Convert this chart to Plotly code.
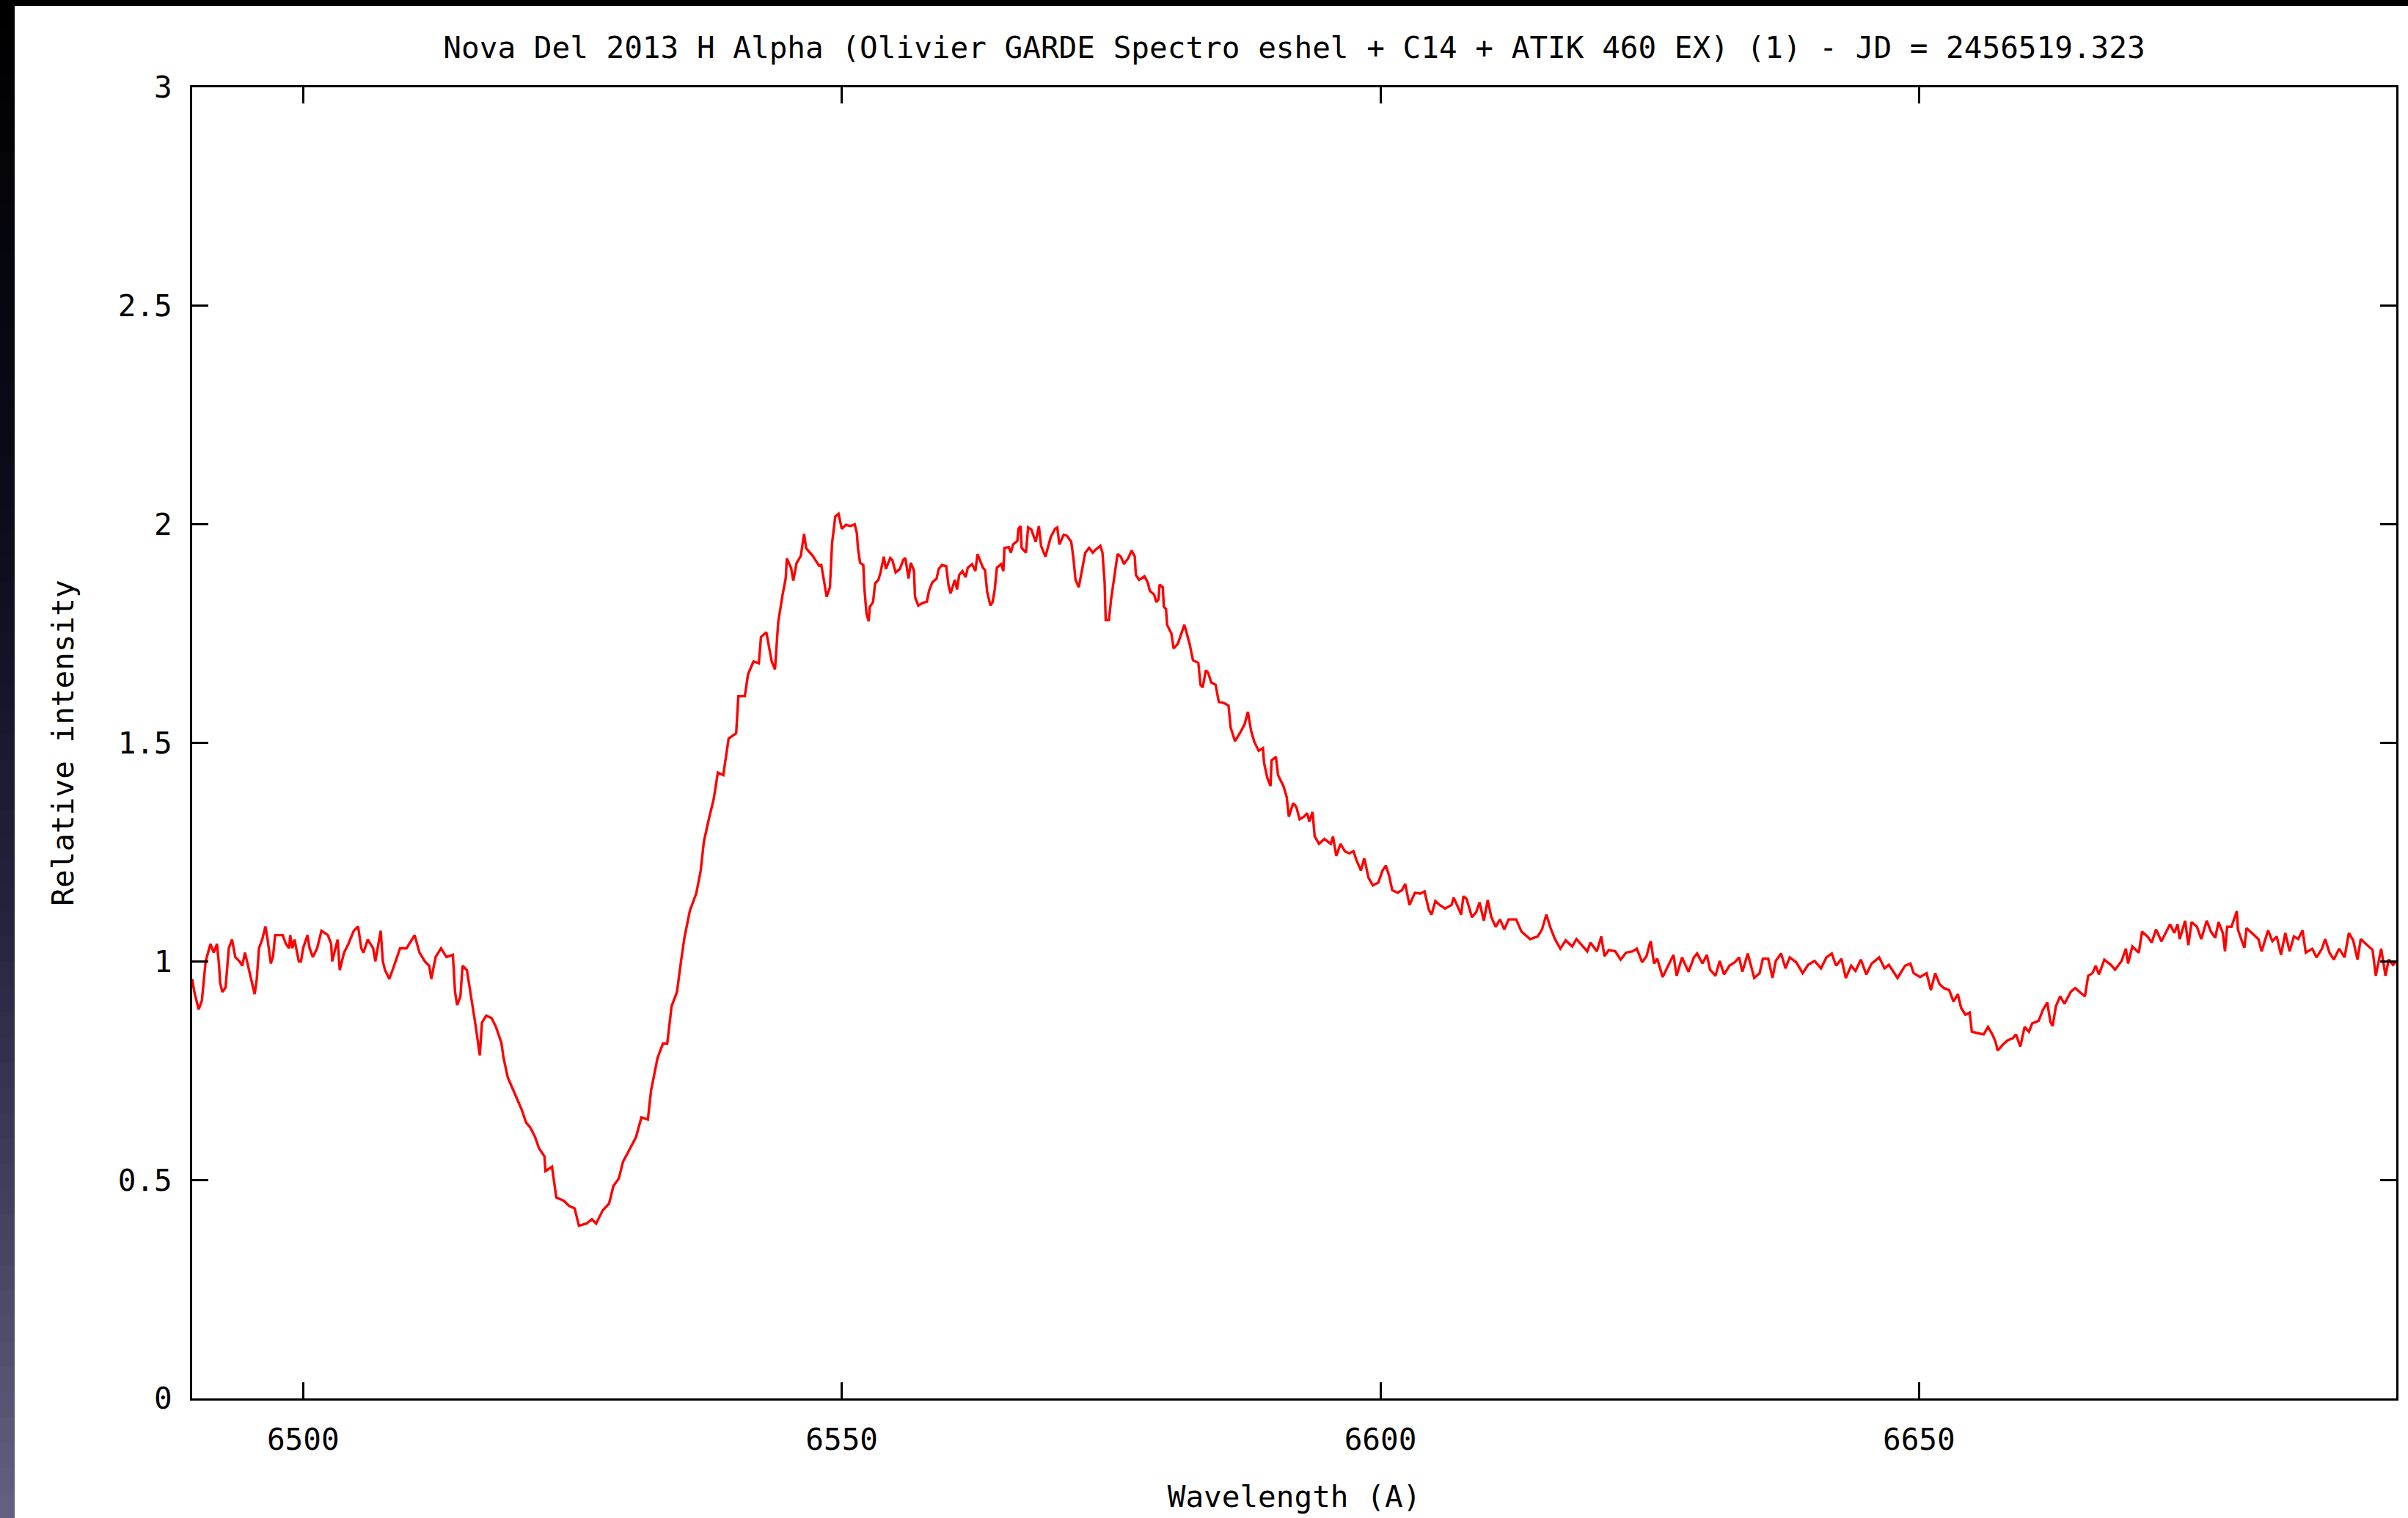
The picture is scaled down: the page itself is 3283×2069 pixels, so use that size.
import plotly.graph_objects as go

# ---- data ----
wavelength = [
    6489.7, 6489.9, 6490.3, 6490.6, 6490.95, 6491.4, 6491.7, 6492.0, 6492.2, 6492.3,
    6492.5, 6492.8, 6492.9, 6493.1, 6493.4, 6493.7, 6494.1, 6494.35, 6494.6, 6495.0,
    6495.3, 6495.5, 6495.7, 6495.9, 6496.2, 6496.5, 6496.7, 6497.0, 6497.2, 6497.4,
    6498.1, 6498.4, 6498.7, 6498.8, 6499.0, 6499.2, 6499.6, 6499.8, 6500.0, 6500.4,
    6500.6, 6500.9, 6501.3, 6501.7, 6502.3, 6502.6, 6502.7, 6503.2, 6503.4, 6503.8,
    6504.2, 6504.7, 6505.1, 6505.4, 6505.6, 6506.0, 6506.5, 6506.7, 6507.2, 6507.4,
    6507.6, 6508.0, 6508.3, 6508.6, 6509.0, 6509.6, 6510.1, 6510.35, 6510.8, 6511.3,
    6511.7, 6511.9, 6512.3, 6512.8, 6513.3, 6513.9, 6514.1, 6514.3, 6514.6, 6514.8,
    6515.2, 6515.6, 6516.0, 6516.4, 6516.6, 6517.0, 6517.5, 6517.9, 6518.4, 6518.6,
    6519.0, 6519.6, 6520.0, 6520.3, 6520.7, 6521.1, 6521.5, 6521.9, 6522.4,
    # rising wing
    6522.5, 6523.1, 6523.5, 6524.2, 6524.7, 6525.2, 6525.6, 6526.3, 6526.8, 6527.2,
    6527.8, 6528.4, 6528.8, 6529.3, 6529.7, 6530.2, 6530.9, 6531.4, 6532.0, 6532.3,
    6532.9, 6533.4, 6533.8, 6534.2, 6534.7, 6535.1, 6535.4, 6535.9, 6536.5, 6536.9,
    6537.2, 6537.7, 6538.1, 6538.5, 6539.0, 6539.5, 6540.2, 6540.4, 6541.0, 6541.3,
    6541.8, 6542.3, 6542.5, 6543.0, 6543.5, 6543.8, 6544.1, 6544.5, 6544.8, 6544.9,
    6545.3, 6545.5, 6545.8, 6546.2, 6546.5, 6546.7, 6547.3, 6547.9,
    # emission top
    6548.1, 6548.6, 6548.9, 6549.1, 6549.4, 6549.7, 6550.0, 6550.4, 6550.8, 6551.2,
    6551.4, 6551.5, 6551.7, 6552.0, 6552.1, 6552.3, 6552.5, 6552.6, 6552.9, 6553.1,
    6553.4, 6553.6, 6553.9, 6554.1, 6554.5, 6554.7, 6555.0, 6555.4, 6555.7, 6555.9,
    6556.2, 6556.4, 6556.7, 6556.8, 6557.1, 6557.5, 6557.9, 6558.1, 6558.4, 6558.8,
    6559.0, 6559.3, 6559.7, 6559.9, 6560.1, 6560.5, 6560.7, 6560.9, 6561.2, 6561.5,
    6561.7, 6562.1, 6562.4, 6562.6, 6562.9, 6563.1, 6563.3, 6563.5, 6563.8, 6564.0,
    6564.2, 6564.4, 6564.8, 6565.0, 6565.1, 6565.5, 6565.7, 6565.9, 6566.3, 6566.4,
    6566.6, 6566.7, 6567.1, 6567.3, 6567.6, 6568.0, 6568.3, 6568.5, 6568.9, 6569.2,
    6569.4, 6569.8, 6570.0, 6570.2, 6570.6, 6570.9, 6571.3, 6571.5, 6571.7, 6572.0,
    6572.3, 6572.6, 6572.96, 6573.3, 6573.6, 6574.0, 6574.2, 6574.4, 6574.5, 6574.8,
    6575.0, 6575.3, 6575.6, 6575.9, 6576.2, 6576.6, 6576.9, 6577.2, 6577.3, 6577.6,
    6578.1, 6578.4, 6578.6, 6579.0, 6579.2, 6579.4, 6579.5, 6579.8, 6579.9, 6580.1,
    6580.2, 6580.6, 6580.8, 6581.2, 6581.6, 6581.8, 6582.0, 6582.3,
    # red wing
    6582.6, 6583.1, 6583.3, 6583.5, 6583.8, 6584.0, 6584.3, 6584.7, 6585.0, 6585.5,
    6585.9, 6586.1, 6586.5, 6587.0, 6587.4, 6587.7, 6588.0, 6588.3, 6588.7, 6589.1,
    6589.2, 6589.5, 6589.8, 6589.9, 6590.3, 6590.5, 6591.0, 6591.3, 6591.5, 6591.9,
    6592.2, 6592.5, 6592.9, 6593.2, 6593.4, 6593.7, 6593.9, 6594.3, 6594.8, 6595.4,
    6595.6, 6595.9, 6596.3, 6596.7, 6597.1, 6597.5, 6597.8, 6598.2, 6598.5, 6598.9,
    6599.3, 6599.8, 6600.2, 6600.5, 6600.8, 6601.1, 6601.6, 6602.0, 6602.3, 6602.7,
    6603.2, 6603.7, 6604.1, 6604.5, 6604.75, 6605.1, 6605.5, 6606.0, 6606.6, 6606.8,
    6607.2, 6607.5, 6607.7, 6608.0, 6608.5, 6608.9, 6609.2, 6609.6, 6609.96, 6610.3,
    6610.7, 6611.1, 6611.5, 6611.9, 6612.6, 6613.1, 6613.9, 6614.6, 6615.0, 6615.4,
    6615.8, 6616.2, 6616.7, 6617.2, 6617.8,
    # continuum
    6618.2, 6618.6, 6619.2, 6619.5, 6620.1, 6620.5, 6620.8, 6621.2, 6621.8, 6622.3,
    6622.8, 6623.4, 6623.8, 6624.3, 6624.7, 6625.0, 6625.1, 6625.4, 6625.7, 6626.2,
    6626.7, 6627.2, 6627.5, 6628.0, 6628.6, 6629.1, 6629.4, 6629.9, 6630.3, 6630.6,
    6631.1, 6631.5, 6631.9, 6632.4, 6632.9, 6633.3, 6633.6, 6634.1, 6634.7, 6635.2,
    6635.5, 6636.0, 6636.4, 6636.7, 6637.2, 6637.6, 6638.0, 6638.6, 6639.2, 6639.7,
    6640.3, 6640.9, 6641.4, 6641.9, 6642.3, 6642.8, 6643.2, 6643.7, 6644.1, 6644.6,
    6645.1, 6645.6, 6646.3, 6646.8, 6647.2, 6648.0, 6648.7, 6649.2, 6649.5, 6650.1,
    6650.7, 6651.1, 6651.5, 6651.9,
    # He I absorption and beyond
    6652.3, 6652.8, 6653.2, 6653.6, 6653.9, 6654.3, 6654.7, 6654.9, 6655.4, 6656.0,
    6656.4, 6656.8, 6657.1, 6657.3, 6657.8, 6658.2, 6658.7, 6659.0, 6659.4, 6659.8,
    6660.2, 6660.5, 6661.1, 6661.5, 6661.9, 6662.2, 6662.4, 6662.7, 6663.1, 6663.5,
    6664.1, 6664.5, 6665.0, 6665.4, 6665.7, 6666.1, 6666.4, 6666.7, 6667.2, 6667.8,
    6668.2, 6668.8, 6669.2, 6669.4, 6669.8, 6670.4, 6670.7, 6671.2, 6671.6, 6672.0,
    6672.5, 6672.9, 6673.3, 6673.7, 6674.0, 6674.2, 6674.7, 6675.0, 6675.3, 6675.8,
    6676.2, 6676.7, 6677.1, 6677.5, 6677.8, 6678.2, 6678.4, 6678.6, 6679.0, 6679.5,
    6679.6, 6679.9, 6680.2, 6680.4, 6681.0, 6681.5, 6681.8, 6682.4, 6682.8, 6683.2,
    6683.6, 6684.0, 6684.4, 6684.8, 6685.2, 6685.6, 6685.9, 6686.5, 6686.9, 6687.4,
    6687.7, 6688.1, 6688.5, 6689.0, 6689.5, 6689.9, 6690.3, 6690.7, 6691.0, 6691.6,
    6692.1, 6692.4, 6692.7, 6692.9, 6693.3, 6693.6, 6694.0, 6694.3,
]

intensity = [
    0.96, 0.93, 0.89, 0.91, 1.00, 1.04, 1.02, 1.04, 0.99, 0.95,
    0.93, 0.94, 0.97, 1.03, 1.05, 1.01, 1.00, 0.99, 1.02, 0.98,
    0.95, 0.925, 0.96, 1.03, 1.05, 1.08, 1.05, 0.995, 1.01, 1.06,
    1.06, 1.04, 1.03, 1.06, 1.03, 1.05, 1.00, 1.00, 1.03, 1.06,
    1.03, 1.01, 1.03, 1.07, 1.06, 1.04, 1.00, 1.05, 0.98, 1.02,
    1.04, 1.07, 1.08, 1.03, 1.02, 1.05, 1.03, 1.00, 1.07, 1.00,
    0.98, 0.96, 0.98, 1.00, 1.03, 1.03, 1.05, 1.06, 1.02, 1.00,
    0.99, 0.96, 1.01, 1.03, 1.01, 1.015, 0.93, 0.90, 0.92, 0.99,
    0.98, 0.92, 0.855, 0.785, 0.86, 0.876, 0.87, 0.85, 0.814, 0.78,
    0.734, 0.70, 0.678, 0.66, 0.631, 0.619, 0.60, 0.572, 0.554,
    # rising wing
    0.52, 0.53, 0.46, 0.452, 0.44, 0.435, 0.395, 0.40, 0.41, 0.40,
    0.43, 0.446, 0.486, 0.503, 0.542, 0.565, 0.598, 0.643, 0.638, 0.705,
    0.779, 0.812, 0.812, 0.897, 0.93, 1.004, 1.055, 1.116, 1.156, 1.207,
    1.274, 1.33, 1.37, 1.432, 1.426, 1.51, 1.522, 1.607, 1.607, 1.657,
    1.686, 1.682, 1.742, 1.753, 1.686, 1.668, 1.776, 1.838, 1.877, 1.922,
    1.90, 1.871, 1.911, 1.928, 1.978, 1.945, 1.928, 1.905,
    # emission top
    1.907, 1.834, 1.856, 1.957, 2.018, 2.024, 1.99, 1.999, 1.996, 2.0,
    1.98, 1.946, 1.912, 1.907, 1.853, 1.795, 1.778, 1.811, 1.822, 1.865,
    1.873, 1.89, 1.926, 1.898, 1.923, 1.918, 1.89, 1.898, 1.918, 1.923,
    1.876, 1.912, 1.895, 1.834, 1.814, 1.82, 1.823, 1.848, 1.867, 1.876,
    1.898, 1.907, 1.904, 1.862, 1.842, 1.873, 1.851, 1.884, 1.893, 1.879,
    1.901, 1.909, 1.893, 1.932, 1.915, 1.901, 1.895, 1.845, 1.814, 1.822,
    1.851, 1.901, 1.909, 1.893, 1.946, 1.948, 1.935, 1.954, 1.962, 1.99,
    1.996, 1.946, 1.935, 1.993, 1.988, 1.96, 1.996, 1.951, 1.926, 1.951,
    1.971, 1.99, 1.993, 1.954, 1.976, 1.974, 1.96, 1.923, 1.873, 1.856,
    1.898, 1.935, 1.946, 1.935, 1.943, 1.951, 1.935, 1.867, 1.781, 1.781,
    1.828, 1.884, 1.932, 1.926, 1.909, 1.923, 1.94, 1.926, 1.884, 1.873,
    1.881, 1.867, 1.848, 1.839, 1.822, 1.828, 1.862, 1.856, 1.811, 1.806,
    1.77, 1.75, 1.716, 1.727, 1.758, 1.77, 1.753, 1.725,
    # red wing
    1.689, 1.683, 1.633, 1.627, 1.666, 1.661, 1.638, 1.633, 1.594, 1.591,
    1.585, 1.535, 1.504, 1.524, 1.543, 1.571, 1.527, 1.502, 1.482, 1.488,
    1.454, 1.42, 1.401, 1.46, 1.468, 1.426, 1.401, 1.376, 1.331, 1.362,
    1.353, 1.325, 1.331, 1.339, 1.32, 1.342, 1.286, 1.269, 1.28, 1.269,
    1.286, 1.241, 1.269, 1.252, 1.247, 1.252, 1.23, 1.208, 1.236, 1.191,
    1.174, 1.18, 1.208, 1.219, 1.197, 1.163, 1.157, 1.163, 1.177, 1.129,
    1.157, 1.155, 1.16, 1.118, 1.107, 1.138, 1.129, 1.121, 1.129, 1.146,
    1.124, 1.107, 1.149, 1.143, 1.101, 1.113, 1.135, 1.093, 1.14, 1.101,
    1.079, 1.096, 1.073, 1.096, 1.096, 1.068, 1.051, 1.057, 1.073, 1.107,
    1.076, 1.051, 1.029, 1.048, 1.034,
    # continuum
    1.051, 1.04, 1.023, 1.043, 1.023, 1.057, 1.012, 1.026, 1.023, 1.004,
    1.02, 1.023, 1.029, 0.998, 1.012, 1.04, 1.046, 0.995, 1.006, 0.964,
    0.99, 1.015, 0.967, 1.009, 0.976, 1.009, 1.018, 0.995, 1.015, 0.981,
    0.967, 1.001, 0.97, 0.99, 0.998, 1.009, 0.976, 1.018, 0.962, 0.973,
    1.006, 1.006, 0.962, 1.001, 1.018, 0.984, 1.009, 0.998, 0.973, 0.992,
    1.001, 0.984, 1.009, 1.018, 0.99, 1.006, 0.962, 0.99, 0.978, 1.004,
    0.97, 0.995, 1.009, 0.984, 0.992, 0.962, 0.99, 0.995, 0.973, 0.964,
    0.973, 0.934, 0.973, 0.948,
    # He I absorption and beyond
    0.939, 0.934, 0.908, 0.925, 0.894, 0.878, 0.883, 0.839, 0.836, 0.833,
    0.85, 0.833, 0.816, 0.796, 0.81, 0.819, 0.824, 0.833, 0.805, 0.85,
    0.839, 0.858, 0.864, 0.889, 0.906, 0.861, 0.852, 0.897, 0.92, 0.903,
    0.931, 0.939, 0.928, 0.92, 0.967, 0.973, 0.99, 0.97, 1.004, 0.992,
    0.981, 1.001, 1.029, 0.995, 1.034, 1.02, 1.068, 1.057, 1.043, 1.073,
    1.046, 1.065, 1.085, 1.065, 1.085, 1.051, 1.093, 1.037, 1.09, 1.079,
    1.051, 1.093, 1.068, 1.054, 1.09, 1.065, 1.023, 1.079, 1.079, 1.115,
    1.073, 1.051, 1.031, 1.076, 1.062, 1.051, 1.023, 1.071, 1.046, 1.057,
    1.015, 1.065, 1.023, 1.057, 1.051, 1.071, 1.02, 1.029, 1.009, 1.029,
    1.051, 1.02, 1.004, 1.029, 1.009, 1.065, 1.048, 1.004, 1.051, 1.037,
    1.026, 0.967, 1.006, 1.029, 0.967, 1.004, 0.992, 1.0,
]

x_ticks = [6500, 6550, 6600, 6650]
y_ticks = [0, 0.5, 1, 1.5, 2, 2.5, 3]
x_range = [6489.7, 6694.3]
y_range = [0, 3]

title_text = "Nova Del 2013 H Alpha (Olivier GARDE Spectro eshel + C14 + ATIK 460 EX) (1) - JD = 2456519.323"
x_title = "Wavelength (A)"
y_title = "Relative intensity"

# ---- figure ----
W, H = 3283, 2069
ML, MR, MT, MB = 262, 16, 119, 163
PW, PH = W - ML - MR, H - MT - MB
FONT = "DejaVu Sans Mono"
FS = 41

fig = go.Figure()
fig.add_trace(go.Scatter(
    x=wavelength, y=intensity, mode="lines",
    line=dict(color="#ff0000", width=3.4),
    showlegend=False, hoverinfo="x+y",
))

# dark screenshot frame: gradient strip on the left and black band at the top
shapes = []
n = 60
strip_w = 20
stops = [(0.0, (0, 0, 0)), (0.35, (12, 12, 28)), (0.6, (35, 35, 62)), (1.0, (98, 98, 128))]


def grad(t):
    for (t0, c0), (t1, c1) in zip(stops[:-1], stops[1:]):
        if t <= t1:
            f = (t - t0) / (t1 - t0) if t1 > t0 else 0
            return tuple(int(round(a + (b - a) * f)) for a, b in zip(c0, c1))
    return stops[-1][1]


for i in range(n):
    py0 = H * i / n
    py1 = H * (i + 1) / n + 1
    r, g, b = grad((i + 0.5) / n)
    shapes.append(dict(
        type="rect", xref="paper", yref="paper", layer="above",
        x0=(0 - ML) / PW, x1=(strip_w - ML) / PW,
        y0=(H - MB - py1) / PH, y1=(H - MB - py0) / PH,
        fillcolor=f"rgb({r},{g},{b})", line=dict(width=0),
    ))
shapes.append(dict(
    type="rect", xref="paper", yref="paper", layer="above",
    x0=(0 - ML) / PW, x1=(W - ML) / PW,
    y0=(H - MB - 8) / PH, y1=(H - MB) / PH,
    fillcolor="#000000", line=dict(width=0),
))

axis_common = dict(
    showline=True, linecolor="black", linewidth=3, mirror="ticks",
    ticks="inside", ticklen=22, tickwidth=3, tickcolor="black",
    showgrid=False, zeroline=False,
    tickfont=dict(family=FONT, size=FS, color="black"),
)

fig.update_layout(
    width=W, height=H,
    margin=dict(l=ML, r=MR, t=MT, b=MB, pad=0),
    paper_bgcolor="white", plot_bgcolor="white",
    font=dict(family=FONT, size=FS, color="black"),
    title=dict(text=title_text, x=0.5, xref="paper", xanchor="center",
               y=1 - 65 / H, yref="container", yanchor="middle",
               font=dict(family=FONT, size=FS, color="black")),
    xaxis=dict(range=x_range, tickvals=x_ticks, ticklabelstandoff=18,
               title=dict(text=x_title, standoff=41,
                          font=dict(family=FONT, size=FS, color="black")),
               **axis_common),
    yaxis=dict(range=y_range, tickvals=y_ticks, ticklabelstandoff=16,
               title=dict(text=y_title, standoff=48,
                          font=dict(family=FONT, size=FS, color="black")),
               **axis_common),
    shapes=shapes,
)

fig.write_html("out.html")
